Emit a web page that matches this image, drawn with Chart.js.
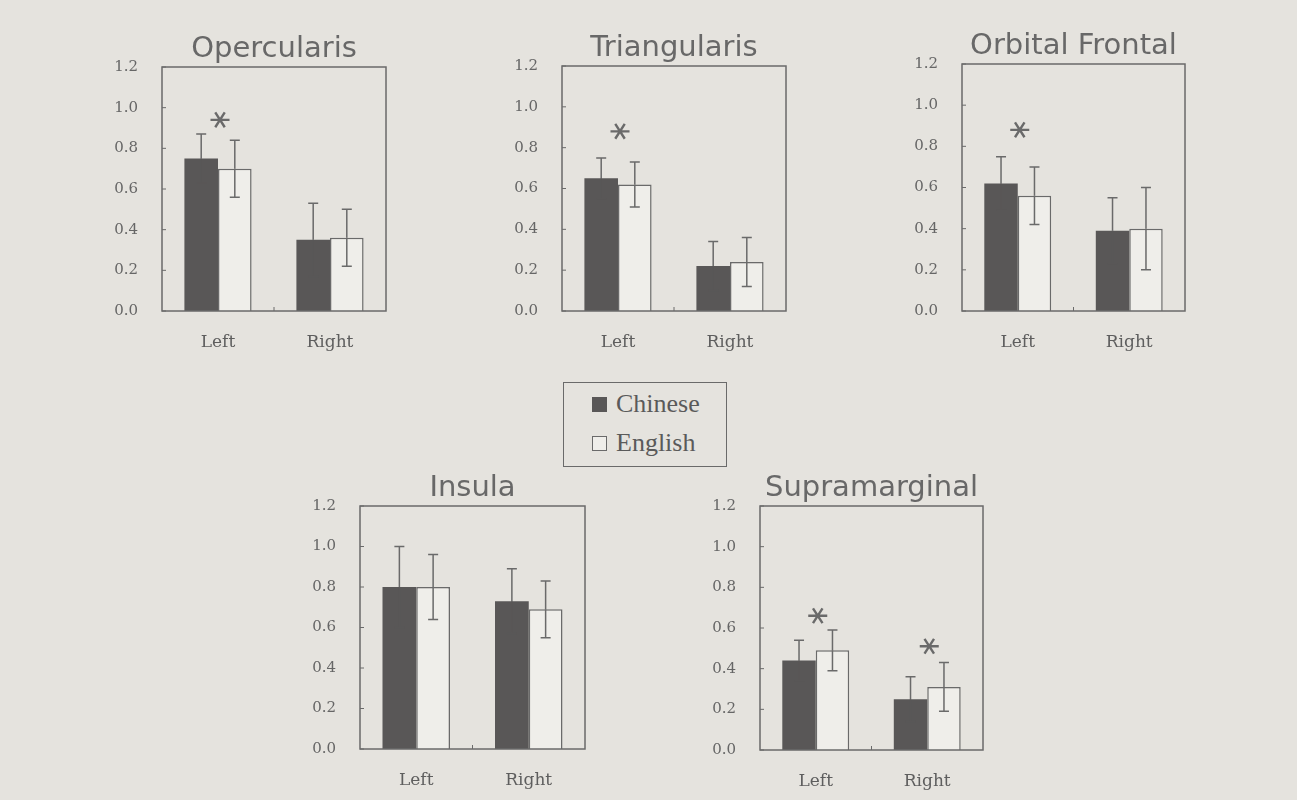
<!DOCTYPE html>
<html>
<head>
<meta charset="utf-8">
<script src="https://cdn.jsdelivr.net/npm/chart.js@4.4.1/dist/chart.umd.min.js"></script>
<style>
  html, body { margin: 0; padding: 0; }
  body { width: 1297px; height: 800px; background: #e5e3de; position: relative; overflow: hidden; }
  .box { position: absolute; }
  #legend { position: absolute; left: 563px; top: 382px; width: 162px; height: 83px;
    border: 1.5px solid #6a6a6a; font-family: "Liberation Serif", serif; font-size: 26px; color: #5a5a5a; }
  .row { position: absolute; left: 28px; height: 20px; line-height: 20px; display: flex; align-items: center; }
  .sw { width: 15px; height: 15px; margin-right: 9px; box-sizing: border-box; }
</style>
</head>
<body>
<div id="legend"></div>
<script>
// ---- data ----
const categories = ['Left', 'Right'];
const regions = ['Opercularis', 'Triangularis', 'Orbital Frontal', 'Insula', 'Supramarginal'];
const seriesNames = ['Chinese', 'English'];
const chineseMeans = [[0.75, 0.35], [0.65, 0.22], [0.62, 0.39], [0.80, 0.73], [0.44, 0.25]];
const chineseErr   = [[0.12, 0.18], [0.10, 0.12], [0.13, 0.16], [0.20, 0.16], [0.10, 0.11]];
const englishMeans = [[0.70, 0.36], [0.62, 0.24], [0.56, 0.40], [0.80, 0.69], [0.49, 0.31]];
const englishErr   = [[0.14, 0.14], [0.11, 0.12], [0.14, 0.20], [0.16, 0.14], [0.10, 0.12]];
const starValues   = [[0.94, null], [0.88, null], [0.88, null], [null, null], [0.66, 0.51]];
const yTickLabels  = ['0.0', '0.2', '0.4', '0.6', '0.8', '1.0', '1.2'];

// ---- layout (plot-area rectangles: left, top, right, bottom) ----
const plotRects = [
  [162, 66, 386, 311],
  [562, 65, 786, 311],
  [962, 63, 1185, 311],
  [360, 505, 585, 749],
  [760, 505, 983, 750]
];
const Y_W = 60, X_H = 50, TITLE_H = 32, PAD_R = 10;
const INK = '#6a6a6a', DARK = '#595757', LIGHT = '#efeeea';

// legend
const legend = document.getElementById('legend');
seriesNames.forEach((name, i) => {
  const r = document.createElement('div');
  r.className = 'row';
  r.style.top = (i === 0 ? 11 : 50) + 'px';
  const sw = document.createElement('div');
  sw.className = 'sw';
  sw.style.background = i === 0 ? DARK : LIGHT;
  sw.style.border = '1px solid ' + (i === 0 ? DARK : INK);
  const t = document.createElement('span');
  t.textContent = name;
  r.appendChild(sw); r.appendChild(t);
  legend.appendChild(r);
});

const framePlugin = {
  id: 'frame',
  afterDraw(chart) {
    const {ctx, chartArea: a, scales} = chart;
    ctx.save();
    ctx.strokeStyle = INK;
    ctx.lineWidth = 1.5;
    ctx.strokeRect(a.left, a.top, a.right - a.left, a.bottom - a.top);
    ctx.lineWidth = 1;
    scales.y.ticks.forEach(t => {
      const y = scales.y.getPixelForValue(t.value);
      ctx.beginPath(); ctx.moveTo(a.left, y); ctx.lineTo(a.left + 4, y); ctx.stroke();
    });
    const xm = (scales.x.getPixelForValue(0) + scales.x.getPixelForValue(1)) / 2;
    ctx.beginPath(); ctx.moveTo(xm, a.bottom); ctx.lineTo(xm, a.bottom - 4); ctx.stroke();
    ctx.restore();
  }
};

const errorPlugin = {
  id: 'errbars',
  afterDatasetsDraw(chart, args, opts) {
    const {ctx, scales} = chart;
    ctx.save();
    ctx.lineWidth = 1.5;
    chart.data.datasets.forEach((ds, di) => {
      const meta = chart.getDatasetMeta(di);
      meta.data.forEach((bar, i) => {
        const v = ds.data[i], e = ds.errors[i];
        const x = bar.x;
        const yMid = scales.y.getPixelForValue(v);
        const yHi = scales.y.getPixelForValue(v + e);
        const yLo = scales.y.getPixelForValue(v - e);
        // upper half
        ctx.strokeStyle = INK;
        ctx.beginPath();
        ctx.moveTo(x, yHi); ctx.lineTo(x, yMid);
        ctx.moveTo(x - 5, yHi); ctx.lineTo(x + 5, yHi);
        ctx.stroke();
        // lower half (inside the bar)
        ctx.strokeStyle = ds.lowerErrColor;
        ctx.beginPath();
        ctx.moveTo(x, yMid); ctx.lineTo(x, yLo);
        ctx.moveTo(x - 5, yLo); ctx.lineTo(x + 5, yLo);
        ctx.stroke();
      });
    });
    // significance stars
    const stars = opts.stars || [];
    ctx.strokeStyle = INK;
    ctx.lineWidth = 2.4;
    stars.forEach((sv, i) => {
      if (sv == null) return;
      const cx = scales.x.getPixelForValue(i) + 2;
      const cy = scales.y.getPixelForValue(sv);
      const r = 9.5;
      ctx.beginPath();
      for (let k = 0; k < 3; k++) {
        const ang = k * Math.PI / 3;
        ctx.moveTo(cx - r * Math.cos(ang), cy - r * 0.9 * Math.sin(ang));
        ctx.lineTo(cx + r * Math.cos(ang), cy + r * 0.9 * Math.sin(ang));
      }
      ctx.stroke();
    });
    ctx.restore();
  }
};

regions.forEach((name, ri) => {
  const [L, T, R, B] = plotRects[ri];
  const div = document.createElement('div');
  div.className = 'box';
  const w = (R - L) + Y_W + PAD_R, h = (B - T) + TITLE_H + X_H;
  div.style.left = (L - Y_W) + 'px';
  div.style.top = (T - TITLE_H) + 'px';
  div.style.width = w + 'px';
  div.style.height = h + 'px';
  const cv = document.createElement('canvas');
  cv.width = w; cv.height = h;
  cv.style.width = w + 'px'; cv.style.height = h + 'px';
  div.appendChild(cv);
  document.body.appendChild(div);

  new Chart(cv, {
    type: 'bar',
    data: {
      labels: categories,
      datasets: [
        { label: seriesNames[0], data: chineseMeans[ri], errors: chineseErr[ri],
          lowerErrColor: DARK,
          backgroundColor: DARK, borderWidth: 0,
          categoryPercentage: 0.6, barPercentage: 1.0 },
        { label: seriesNames[1], data: englishMeans[ri], errors: englishErr[ri],
          lowerErrColor: INK,
          backgroundColor: LIGHT, borderColor: INK, borderWidth: 1.5,
          categoryPercentage: 0.6, barPercentage: 1.0 }
      ]
    },
    options: {
      responsive: false,
      animation: false,
      devicePixelRatio: 1,
      layout: { padding: { left: 0, top: 0, right: PAD_R, bottom: 0 } },
      plugins: {
        legend: { display: false },
        tooltip: { enabled: false },
        title: {
          display: true, text: name, fullSize: false,
          color: '#686868',
          font: { family: 'DejaVu Sans', size: 29, weight: 'normal', lineHeight: 1 },
          padding: { top: 0, bottom: 3 }
        },
        errbars: { stars: starValues[ri] }
      },
      scales: {
        x: {
          grid: { display: false, drawTicks: false },
          border: { display: false },
          ticks: { color: '#5e5e5e', padding: 21,
            font: { family: 'DejaVu Serif', size: 17 } },
          afterFit(s) { s.height = X_H; }
        },
        y: {
          min: 0, max: 1.2,
          grid: { display: false, drawTicks: false },
          border: { display: false },
          ticks: { stepSize: 0.2, color: '#666666', padding: 24,
            font: { family: 'DejaVu Serif', size: 15 },
            callback: (v, i) => yTickLabels[i] },
          afterFit(s) { s.width = Y_W; }
        }
      }
    },
    plugins: [framePlugin, errorPlugin]
  });
});
</script>
</body>
</html>
